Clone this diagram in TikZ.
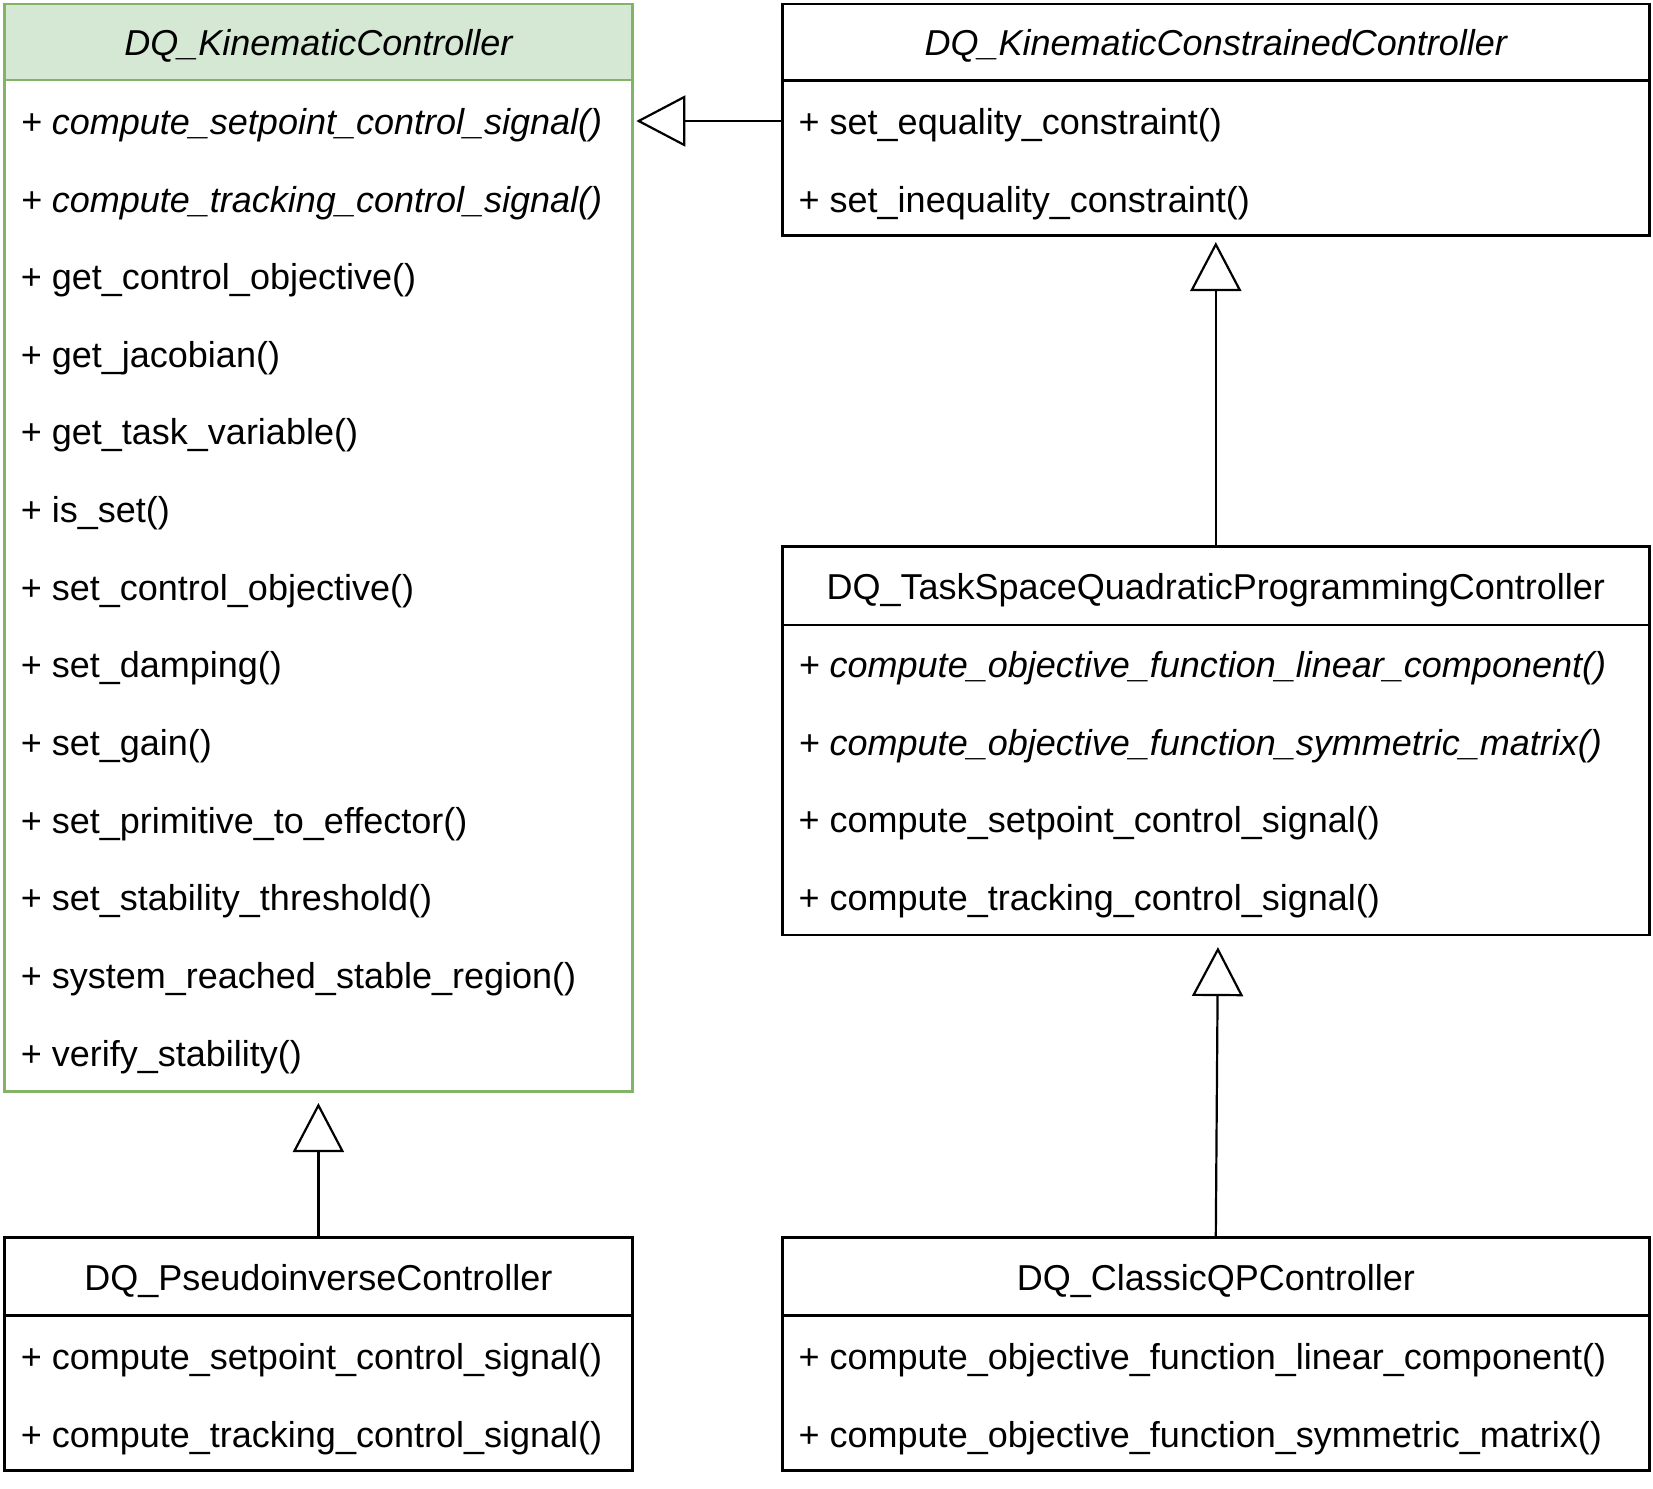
\documentclass[tikz,border=0pt]{standalone}
\usepackage{fontspec}
\setmainfont{Liberation Sans}
\usetikzlibrary{arrows.meta,fit}
\definecolor{gfill}{HTML}{D5E8D4}
\definecolor{gline}{HTML}{82B366}
\tikzset{
  boxb/.style={draw=black, line width=1.35pt, fill=white, inner sep=0pt},
  hdrb/.style={draw=black, line width=1.35pt, inner sep=0pt},
  boxg/.style={draw=gline, line width=1.3pt, fill=white, inner sep=0pt},
  hdrg/.style={draw=gline, line width=1.3pt, fill=gfill, inner sep=0pt},
  ttl/.style={anchor=base, inner sep=0pt, font=\fontsize{18}{21.6}\selectfont},
  ttli/.style={ttl, font=\fontsize{18}{21.6}\selectfont\itshape},
  row/.style={anchor=base west, inner sep=0pt, font=\fontsize{18}{21.6}\selectfont},
  rowi/.style={row, font=\fontsize{18}{21.6}\selectfont\itshape},
  inh/.style={draw=black, line width=1.1pt, -{Triangle[open, length=24.5pt, width=25.5pt]}}
}
\begin{document}
\begin{tikzpicture}[x=0.5pt,y=-0.5pt]
\useasboundingbox (0,0) rectangle (1653,1488);

% DQ_KinematicController
\node[boxg, fit={(4.5,4)(632.3,1091.7)}] (kc) {};
\node[hdrg, fit={(4.5,4)(632.3,80)}] (kch) {};
\node[ttli] (kct) at (318.4,55) {DQ\_KinematicController};
\node[rowi] (kc1) at (20.5,134.3) {+ compute\_setpoint\_control\_signal()};
\node[rowi] (kc2) at (20.5,212.0) {+ compute\_tracking\_control\_signal()};
\node[row] (kc3) at (20.5,289.6) {+ get\_control\_objective()};
\node[row] (kc4) at (20.5,367.3) {+ get\_jacobian()};
\node[row] (kc5) at (20.5,444.9) {+ get\_task\_variable()};
\node[row] (kc6) at (20.5,522.6) {+ is\_set()};
\node[row] (kc7) at (20.5,600.2) {+ set\_control\_objective()};
\node[row] (kc8) at (20.5,677.9) {+ set\_damping()};
\node[row] (kc9) at (20.5,755.5) {+ set\_gain()};
\node[row] (kc10) at (20.5,833.2) {+ set\_primitive\_to\_effector()};
\node[row] (kc11) at (20.5,910.8) {+ set\_stability\_threshold()};
\node[row] (kc12) at (20.5,988.5) {+ system\_reached\_stable\_region()};
\node[row] (kc13) at (20.5,1066.1) {+ verify\_stability()};

% DQ_KinematicConstrainedController
\node[boxb, fit={(782.3,4)(1649.3,235.7)}] (kcc) {};
\node[hdrb, fit={(782.3,4)(1649.3,80.5)}] (kcch) {};
\node[ttli] (kcct) at (1215.8,55) {DQ\_KinematicConstrainedController};
\node[row] (kcc1) at (798.3,134.3) {+ set\_equality\_constraint()};
\node[row] (kcc2) at (798.3,212.0) {+ set\_inequality\_constraint()};

% DQ_TaskSpaceQuadraticProgrammingController
\node[boxb, fit={(782.3,546.7)(1649.3,935.1)}] (tq) {};
\node[hdrb, fit={(782.3,546.7)(1649.3,625)}] (tqh) {};
\node[ttl] (tqt) at (1215.8,599) {DQ\_TaskSpaceQuadraticProgrammingController};
\node[rowi] (tq1) at (798.3,677.2) {+ compute\_objective\_function\_linear\_component()};
\node[rowi] (tq2) at (798.3,755.0) {+ compute\_objective\_function\_symmetric\_matrix()};
\node[row] (tq3) at (798.3,832.8) {+ compute\_setpoint\_control\_signal()};
\node[row] (tq4) at (798.3,910.4) {+ compute\_tracking\_control\_signal()};

% DQ_PseudoinverseController
\node[boxb, fit={(4.5,1237.7)(632.3,1470.6)}] (pi) {};
\node[hdrb, fit={(4.5,1237.7)(632.3,1315.7)}] (pih) {};
\node[ttl] (pit) at (318.4,1290) {DQ\_PseudoinverseController};
\node[row] (pi1) at (20.5,1369) {+ compute\_setpoint\_control\_signal()};
\node[row] (pi2) at (20.5,1447) {+ compute\_tracking\_control\_signal()};

% DQ_ClassicQPController
\node[boxb, fit={(782.3,1237.7)(1649.3,1470.6)}] (cq) {};
\node[hdrb, fit={(782.3,1237.7)(1649.3,1315.7)}] (cqh) {};
\node[ttl] (cqt) at (1215.8,1290) {DQ\_ClassicQPController};
\node[row] (cq1) at (798.3,1369) {+ compute\_objective\_function\_linear\_component()};
\node[row] (cq2) at (798.3,1447) {+ compute\_objective\_function\_symmetric\_matrix()};

% connectors
\coordinate (a1) at (632.3,121);
\draw[inh, shorten >=1.35pt] (kcc.west |- a1) -- (kc.east |- a1);
\draw[inh, shorten >=2.5pt] (tq.north) -- (kcc.south);
\coordinate (tqb) at (1218,935.1);
\draw[inh, shorten >=6pt] (cq.north) -- (tqb);
\draw[inh, shorten >=5pt] (pi.north) -- (kc.south);
\end{tikzpicture}
\end{document}
